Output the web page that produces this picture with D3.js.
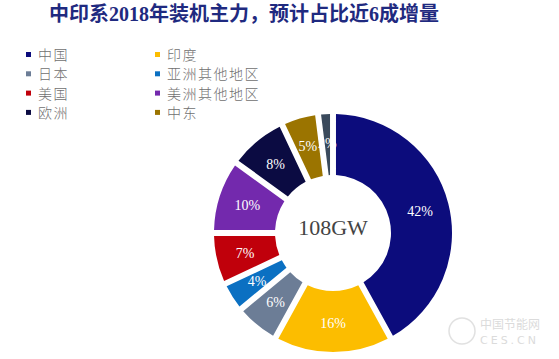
<!DOCTYPE html>
<meta charset='utf-8'>
<style>
    body { margin: 0; background: #fff; }
    svg { display: block; }
</style>
<body>
    <script src='https://d3js.org/d3.v7.min.js'></script>
    <script>
        var width = 559,
            height = 359;

        var categories = ['中国', '印度', '日本', '亚洲其他地区', '美国', '美洲其他地区', '欧洲', '中东', '其他'];
        var shares = [42, 16, 6, 4, 7, 10, 8, 5, 2];
        var legendNames = ['中国', '印度', '日本', '亚洲其他地区', '美国', '美洲其他地区', '欧洲', '中东'];
        var colors = ['#0c0c7c', '#fcbd00', '#6c7d96', '#0b70c2', '#c0000b', '#7329ad', '#0b0b42', '#9b7400', '#3a4a5c'];
        var title = '中印系2018年装机主力，预计占比近6成增量';
        var centerLabel = '108GW';

        var svg = d3.select('body').append('svg')
            .attr('width', width)
            .attr('height', height);

        // title
        svg.append('text')
            .attr('x', 49)
            .attr('y', 21)
            .style('font-family', '"Liberation Serif", "Noto Sans CJK SC"')
            .style('font-size', '20px')
            .style('font-weight', 'bold')
            .style('fill', '#1f2a80')
            .text(title);

        // legend, two columns
        var legend = svg.append('g').selectAll('g')
            .data(legendNames)
            .enter().append('g')
            .attr('transform', function(d, i) {
                return 'translate(' + (i % 2 ? 155 : 26) + ',' + (55 + Math.floor(i / 2) * 19.3) + ')';
            });

        legend.append('rect')
            .attr('x', 0).attr('y', -3)
            .attr('width', 5).attr('height', 5)
            .style('fill', function(d, i) { return colors[i]; });

        legend.append('text')
            .attr('x', 12)
            .attr('y', 0)
            .attr('dy', '0.36em')
            .style('font-family', '"Noto Sans CJK SC"')
            .style('font-size', '14px')
            .style('font-weight', 300)
            .style('letter-spacing', '1.5px')
            .style('fill', '#707070')
            .text(function(d) { return d; });

        // donut
        var cx = 333, cy = 233,
            outerR = 119, innerR = 58;

        var pie = d3.pie().sort(null).value(function(d) { return d; });
        var arc = d3.arc().innerRadius(innerR).outerRadius(outerR).padAngle(0.045);
        var labelArc = d3.arc().innerRadius(90).outerRadius(90);

        var g = svg.append('g').attr('transform', 'translate(' + cx + ',' + cy + ')');

        var slices = g.selectAll('g.slice')
            .data(pie(shares))
            .enter().append('g')
            .attr('class', 'slice');

        slices.append('path')
            .attr('d', arc)
            .style('fill', function(d, i) { return colors[i]; });

        slices.append('text')
            .attr('transform', function(d) { return 'translate(' + labelArc.centroid(d) + ')'; })
            .attr('text-anchor', 'middle')
            .attr('dy', '0.35em')
            .style('font-family', '"Liberation Serif"')
            .style('font-size', '14px')
            .style('fill', '#fff')
            .text(function(d) { return d.data + '%'; });

        g.append('text')
            .attr('text-anchor', 'middle')
            .attr('dy', '0.35em')
            .attr('y', -6)
            .style('font-family', '"Liberation Serif"')
            .style('font-size', '22px')
            .style('fill', '#444')
            .text(centerLabel);

        // faint watermark
        var wm = svg.append('g').style('opacity', 0.35);
        wm.append('circle')
            .attr('cx', 462).attr('cy', 331).attr('r', 13)
            .style('fill', 'none').style('stroke', '#aaa').style('stroke-width', 1.5);
        wm.append('text')
            .attr('x', 480).attr('y', 329)
            .style('font-family', '"Noto Sans CJK SC"')
            .style('font-size', '12px')
            .style('fill', '#999')
            .text('中国节能网');
        wm.append('text')
            .attr('x', 480).attr('y', 344)
            .style('font-family', '"DejaVu Sans"')
            .style('font-size', '11px')
            .style('letter-spacing', '3px')
            .style('fill', '#999')
            .text('CES.CN');
   </script>
</body>
